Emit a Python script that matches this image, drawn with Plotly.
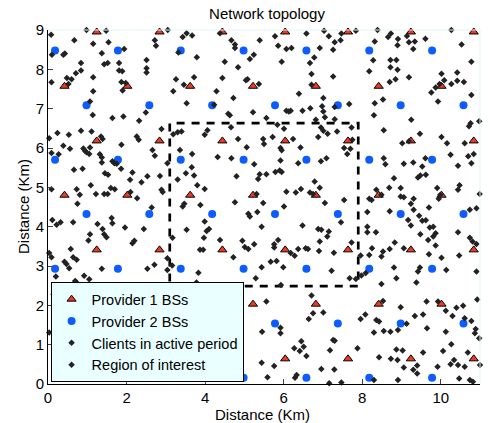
import plotly.graph_objects as go

# ---------------- data ----------------
# Provider 1 base stations (red triangles)
bs1_x = [1.24, 2.84, 4.44, 6.04, 7.64, 9.24, 10.84,
         0.42, 2.02, 3.62, 5.22, 6.82, 8.42, 10.02,
         1.24, 2.84, 4.44, 6.04, 7.64, 9.24, 10.84,
         0.42, 2.02, 3.62, 5.22, 6.82, 8.42, 10.02,
         1.24, 2.84, 4.44, 6.04, 7.64, 9.24, 10.84,
         0.42, 2.02, 3.62, 5.22, 6.82, 8.42, 10.02,
         1.24, 2.84, 4.44, 6.04, 7.64, 9.24, 10.84]
bs1_y = [8.95] * 7 + [7.57] * 7 + [6.18] * 7 + [4.80] * 7 + [3.41] * 7 + [2.03] * 7 + [0.64] * 7

# Provider 2 base stations (blue circles)
bs2_x = [0.18, 1.78, 3.38, 4.98, 6.58, 8.18, 9.78,
         0.98, 2.58, 4.18, 5.78, 7.38, 8.98, 10.58,
         0.18, 1.78, 3.38, 4.98, 6.58, 8.18, 9.78,
         0.98, 2.58, 4.18, 5.78, 7.38, 8.98, 10.58,
         0.18, 1.78, 3.38, 4.98, 6.58, 8.18, 9.78,
         0.98, 2.58, 4.18, 5.78, 7.38, 8.98, 10.58,
         0.18, 1.78, 3.38, 4.98, 6.58, 8.18, 9.78]
bs2_y = [8.48] * 7 + [7.09] * 7 + [5.70] * 7 + [4.32] * 7 + [2.93] * 7 + [1.54] * 7 + [0.16] * 7

# Clients in active period (x, y) in km
clients = [
    (0.98, 9.0), (1.48, 8.98), (0.08, 8.88), (3.05, 9.0), (0.67, 8.74), (1.15, 8.65), (1.54, 8.69),
    (2.72, 8.74), (2.75, 8.6), (3.53, 8.92), (3.43, 8.82), (0.1, 8.37), (0.39, 8.37), (0.43, 8.4),
    (1.37, 8.41), (1.94, 8.52), (3.32, 8.43), (0.84, 8.16), (0.71, 7.9), (0.48, 7.78), (0.6, 7.75),
    (0.52, 7.63), (0.84, 7.97), (1.43, 8.13), (1.52, 8.16), (1.81, 8.16), (1.81, 7.97), (1.89, 7.95),
    (2.51, 8.24), (2.51, 8.03), (2.51, 7.92), (1.15, 7.8), (1.87, 7.68), (1.98, 7.65), (3.26, 7.75),
    (3.46, 7.61), (0.09, 7.67), (1.15, 7.44), (1.07, 7.18), (1.9, 7.46), (3.19, 7.44), (3.53, 7.14),
    (1.14, 6.84), (1.64, 6.76), (1.92, 6.8), (2.49, 6.9), (2.32, 6.69), (2.89, 6.48), (3.19, 6.35),
    (3.3, 6.4), (3.4, 6.42), (0.24, 6.38), (0.53, 6.34), (0.84, 6.44), (1.11, 6.42), (1.35, 6.29),
    (1.39, 6.23), (0.03, 6.25), (0.39, 6.06), (0.56, 5.98), (0.9, 5.99), (0.94, 5.93), (0.98, 5.89),
    (1.05, 5.85), (1.07, 6.01), (1.32, 5.84), (1.37, 5.76), (1.37, 5.63), (1.87, 6.08), (2.26, 6.29),
    (2.31, 6.21), (2.66, 5.95), (2.72, 5.8), (3.04, 5.61), (3.36, 5.95), (0.09, 5.87), (0.27, 5.84),
    (0.66, 5.45), (0.88, 5.47), (1.45, 5.36), (1.53, 5.32), (1.64, 5.66), (1.69, 5.61), (1.75, 5.6),
    (1.86, 5.47), (2.15, 5.38), (2.09, 5.19), (2.38, 5.13), (2.53, 5.28), (2.85, 5.29), (3.3, 5.2),
    (3.51, 5.36), (1.09, 5.05), (0.73, 4.95), (0.81, 4.81), (1.22, 4.83), (1.43, 4.83), (1.52, 4.83),
    (1.6, 4.98), (1.7, 4.95), (2.1, 4.88), (2.27, 4.72), (2.89, 4.94), (2.92, 4.88), (3.47, 4.58),
    (0.75, 4.58), (0.09, 4.95),
    (3.67, 8.86), (4.38, 8.92), (4.67, 8.74), (4.76, 8.63), (4.76, 8.54), (5.39, 8.74), (5.78, 8.84),
    (5.86, 8.6), (6.07, 8.52), (6.2, 8.54), (6.58, 8.91), (7.03, 8.98), (7.15, 8.84), (7.26, 8.5),
    (6.92, 8.54), (6.78, 8.3), (6.67, 8.16), (5.95, 8.19), (3.79, 8.31), (4.5, 8.19), (4.84, 8.05),
    (5.14, 8.26), (5.24, 8.37), (4.44, 7.78), (5.04, 7.72), (5.08, 7.75), (5.37, 7.63), (3.72, 7.8),
    (6.71, 7.88), (6.71, 7.61), (7.26, 7.82), (4.29, 7.44), (4.72, 7.27), (4.23, 7.1), (4.59, 6.87),
    (4.63, 6.83), (5.22, 6.91), (5.56, 6.76), (6.07, 6.95), (6.13, 6.93), (6.18, 6.95), (6.48, 6.95),
    (6.68, 7.01), (6.39, 7.38), (7.01, 7.27), (6.98, 7.06), (7.01, 6.93), (7.05, 6.78), (6.82, 6.72),
    (4.66, 6.53), (4.06, 6.45), (3.99, 6.34), (5.84, 6.59), (6.01, 6.49), (6.95, 6.52), (7.01, 6.44),
    (7.12, 6.36), (6.88, 6.28), (4.84, 6.23), (5.48, 6.23), (5.5, 6.1), (5.72, 6.28), (6.24, 6.23),
    (5.06, 6.02), (5.92, 6.0), (5.95, 5.94), (6.43, 6.01), (3.67, 5.85), (4.32, 5.77), (4.67, 5.74),
    (5.25, 5.59), (5.92, 5.68), (6.37, 5.61), (6.95, 5.66), (7.09, 5.74), (3.66, 5.51), (3.72, 5.3),
    (4.8, 5.28), (5.39, 5.33), (5.56, 5.33), (5.79, 5.39), (5.9, 5.43), (5.95, 5.39), (5.35, 5.21),
    (6.79, 5.15), (6.92, 4.99), (3.8, 5.05), (3.99, 4.96), (4.76, 4.62), (3.88, 4.55), (5.48, 4.6),
    (6.01, 4.51), (6.07, 4.89), (6.31, 4.87), (6.44, 4.96), (6.67, 4.87), (6.75, 4.83), (7.05, 4.6),
    (5.31, 4.83),
    (7.47, 8.91), (7.84, 8.98), (7.3, 8.69), (7.45, 8.74), (8.39, 9.0), (8.73, 8.91), (8.66, 8.82),
    (8.91, 8.77), (8.9, 8.61), (9.14, 8.85), (9.19, 8.69), (9.34, 8.71), (9.3, 8.52), (9.61, 8.78),
    (10.27, 9.0), (10.53, 8.63), (8.32, 8.71), (8.28, 8.23), (8.72, 8.24), (8.87, 8.24), (8.18, 7.95),
    (8.72, 8.05), (8.9, 7.99), (10.78, 8.19), (9.19, 7.8), (8.7, 7.68), (8.85, 7.75), (10.02, 7.89),
    (10.09, 7.72), (9.97, 7.63), (10.42, 7.92), (10.42, 7.71), (10.27, 7.63), (10.59, 7.68), (9.76, 7.41),
    (9.87, 7.54), (10.78, 7.35), (8.53, 7.23), (8.32, 7.14), (7.67, 7.12), (7.3, 7.04), (9.93, 7.18),
    (8.3, 6.83), (7.3, 6.73), (9.25, 6.72), (7.36, 6.42), (7.73, 6.52), (8.55, 6.45), (9.47, 6.36),
    (10.72, 6.55), (10.76, 6.63), (10.98, 6.68), (7.75, 6.21), (7.54, 6.0), (7.7, 5.98), (7.62, 5.85),
    (9.02, 6.12), (9.19, 6.17), (10.02, 6.28), (10.16, 6.12), (10.61, 6.12), (10.25, 5.83), (10.7, 5.79),
    (10.84, 5.85), (10.78, 5.61), (8.55, 5.74), (8.59, 5.59), (9.06, 5.6), (9.3, 5.63), (9.61, 5.74),
    (9.53, 5.53), (10.44, 5.55), (8.81, 5.23), (9.42, 5.25), (9.48, 5.3), (9.62, 5.32), (8.69, 4.99),
    (8.98, 4.98), (9.91, 4.98), (10.48, 5.05), (10.44, 4.94), (10.99, 4.83), (8.36, 4.94), (8.49, 4.81),
    (8.18, 4.71), (8.24, 4.68), (8.98, 4.77), (9.06, 4.75), (9.24, 4.58), (9.31, 4.71), (9.95, 4.71),
    (9.99, 4.81), (7.54, 4.68),
    (2.64, 4.49), (3.43, 4.51), (0.11, 4.17), (0.22, 4.05), (0.32, 4.11), (0.64, 4.11), (1.62, 4.22),
    (1.64, 4.09), (1.96, 3.98), (1.26, 4.07), (1.39, 3.94), (1.07, 3.81), (1.43, 3.81), (1.49, 3.73),
    (1.03, 3.65), (2.44, 3.94), (2.2, 3.64), (2.15, 3.58), (3.17, 3.72), (3.53, 3.92), (0.58, 3.43),
    (0.64, 3.22), (0.73, 3.16), (0.09, 3.22), (0.42, 3.11), (0.47, 3.05), (0.54, 2.94), (0.03, 3.33),
    (1.37, 2.93), (2.53, 2.93), (2.71, 3.03), (3.04, 3.2), (3.16, 3.01), (3.04, 2.9), (0.2, 2.73),
    (0.69, 2.62), (0.92, 2.75), (1.05, 2.66), (1.62, 2.5), (1.9, 2.48), (2.02, 2.44), (2.04, 2.38),
    (2.09, 2.5), (2.02, 2.33), (2.26, 2.33), (2.49, 2.28), (0.14, 2.28), (3.46, 2.28), (0.03, 1.31),
    (0.71, 2.6), (3.78, 2.58),
    (5.1, 4.33), (5.14, 4.26), (5.33, 4.37), (5.44, 4.0), (6.48, 4.03), (6.88, 3.94), (6.96, 3.92),
    (7.15, 3.88), (7.11, 3.75), (3.99, 4.13), (4.1, 3.94), (4.04, 3.89), (3.97, 3.72), (4.38, 3.66),
    (4.95, 3.64), (5.01, 3.48), (5.1, 3.43), (5.25, 3.55), (5.86, 3.66), (5.76, 3.55), (5.76, 3.47),
    (6.18, 3.33), (6.28, 3.26), (6.37, 3.43), (6.56, 3.45), (6.62, 3.43), (6.92, 3.62), (6.9, 3.38),
    (3.87, 3.41), (3.95, 3.41), (4.72, 3.22), (5.44, 2.97), (5.67, 3.11), (5.82, 3.13), (5.99, 2.97),
    (3.83, 2.83), (5.29, 2.69), (7.22, 2.88), (4.76, 2.43), (4.8, 2.37), (4.04, 2.31), (4.4, 2.28),
    (5.93, 2.52), (5.56, 2.1), (6.71, 2.25), (6.75, 1.8), (6.64, 1.65), (7.01, 1.82), (5.92, 1.43),
    (5.92, 1.29), (5.45, 1.33), (6.45, 1.09), (6.27, 0.91), (6.41, 0.84), (6.51, 0.95), (6.58, 0.71),
    (7.18, 0.86), (7.26, 1.12), (5.76, 0.46), (6.29, 0.16), (6.33, 0.23), (6.96, 0.38), (5.59, 0.17),
    (7.16, 0.02), (5.44, 0.54),
    (8.13, 4.37), (8.7, 4.39), (9.31, 4.43), (9.7, 4.49), (9.45, 4.28), (9.53, 4.15), (9.62, 4.16),
    (9.17, 4.17), (9.24, 4.03), (9.72, 3.98), (9.81, 4.0), (10.74, 4.43), (10.91, 4.47), (7.46, 4.11),
    (8.13, 4.0), (8.13, 3.86), (8.35, 3.86), (9.48, 3.81), (9.87, 3.83), (9.81, 3.75), (9.68, 3.66),
    (10.44, 3.86), (10.74, 3.72), (10.81, 3.62), (10.91, 3.56), (7.73, 3.6), (8.83, 3.6), (9.06, 3.45),
    (8.25, 3.45), (8.18, 3.28), (8.53, 3.37), (8.49, 3.24), (8.7, 3.43), (9.87, 3.52), (9.7, 3.3),
    (10.02, 3.21), (10.47, 3.27), (7.28, 3.34), (7.96, 3.27), (8.81, 2.96), (9.47, 2.96), (9.42, 2.86),
    (10.14, 2.9), (10.91, 2.86), (7.68, 2.69), (7.84, 2.67), (7.98, 2.76), (8.09, 2.82), (8.87, 2.69),
    (8.49, 2.54), (9.38, 2.58), (8.53, 2.11), (9.64, 2.1), (9.93, 2.1), (10.13, 1.86), (10.3, 1.73),
    (10.4, 1.94), (10.57, 1.99), (10.61, 1.67), (10.93, 2.15), (8.98, 1.95), (9.34, 1.73), (9.55, 1.77),
    (8.08, 1.77), (7.96, 1.65), (8.36, 1.63), (8.43, 1.59), (9.13, 1.53), (8.3, 1.31), (8.55, 1.35),
    (8.72, 1.33), (8.91, 1.37), (9.65, 1.42), (10.13, 1.33), (10.78, 1.6), (10.89, 1.4), (10.87, 1.29),
    (10.98, 1.16), (7.3, 1.1), (7.88, 0.91), (8.87, 0.88), (9.03, 0.85), (8.43, 0.68), (8.73, 0.64),
    (8.9, 0.61), (9.55, 0.8), (10.06, 0.84), (10.27, 1.01), (10.69, 0.8), (10.34, 0.61), (10.25, 0.5),
    (10.44, 0.48), (10.61, 0.44), (9.06, 0.42), (9.4, 0.47), (9.3, 0.36), (9.4, 0.27), (9.92, 0.44),
    (11.0, 0.48), (7.29, 0.37), (8.3, 0.1), (8.91, 0.1), (7.47, 0.04), (10.47, 0.14), (10.74, 0.1),
    (10.82, 0.06),
]
client_x = [p[0] for p in clients]
client_y = [p[1] for p in clients]

# Region of interest (rectangle corners)
region_x = [3.1, 7.9, 7.9, 3.1, 3.1]
region_y = [2.49, 2.49, 6.63, 6.63, 2.49]

x_ticks = [0, 2, 4, 6, 8, 10]
y_ticks = [0, 1, 2, 3, 4, 5, 6, 7, 8, 9]

FONT = "Liberation Sans, Arial, Helvetica, sans-serif"

fig = go.Figure()

fig.add_trace(go.Scatter(
    x=region_x, y=region_y, mode="lines", showlegend=False,
    line=dict(color="black", width=2.7, dash="8px,7px"), hoverinfo="skip"))

fig.add_trace(go.Scatter(
    x=bs1_x, y=bs1_y, mode="markers", name="Provider 1 BSs", legendrank=1,
    marker=dict(symbol="triangle-up", size=8, color="#ee3a22",
                line=dict(color="black", width=1)), cliponaxis=False))

fig.add_trace(go.Scatter(
    x=bs2_x, y=bs2_y, mode="markers", name="Provider 2 BSs", legendrank=2,
    marker=dict(symbol="circle", size=8, color="#0d5cff"), cliponaxis=False))

fig.add_trace(go.Scatter(
    x=client_x, y=client_y, mode="markers", name="Clients in active period", legendrank=3,
    marker=dict(symbol="diamond", size=5, color="#222222"), cliponaxis=False))

# legend-only entry for the region (shown with a client-like marker, as in the reference)
fig.add_trace(go.Scatter(
    x=[None], y=[None], mode="markers", name="Region of interest", legendrank=4,
    marker=dict(symbol="diamond", size=5, color="#222222")))

fig.update_layout(
    width=488, height=423,
    margin=dict(l=48, r=8, t=30, b=39),
    paper_bgcolor="white", plot_bgcolor="white",
    font=dict(family=FONT, size=15, color="black"),
    title=dict(text="Network topology", x=267 / 488, xanchor="center",
               y=1 - 14 / 423, yanchor="middle",
               font=dict(size=15, family=FONT)),
    legend=dict(x=0.006, y=0.005, xanchor="left", yanchor="bottom",
                bgcolor="#eaffff", bordercolor="black", borderwidth=1,
                font=dict(size=14.5, family=FONT), traceorder="normal",
                itemsizing="trace", tracegroupgap=0),
    showlegend=True,
    annotations=[
        dict(text="Distance (Km)", xref="paper", yref="paper",
             x=(262 - 48) / 432, y=-(414 - 384) / 354, xanchor="center", yanchor="middle",
             showarrow=False, font=dict(size=15, family=FONT)),
        dict(text="Distance (Km)", xref="paper", yref="paper", textangle=-90,
             x=-(48 - 23) / 432, y=0.5, xanchor="center", yanchor="middle",
             showarrow=False, font=dict(size=15, family=FONT)),
    ],
)

fig.update_xaxes(range=[0, 11], tickvals=x_ticks, ticks="inside", ticklen=5,
                 showgrid=False, zeroline=False, showline=True, linecolor="black",
                 linewidth=1, tickfont=dict(size=15), automargin=False)
fig.update_yaxes(range=[0, 9], tickvals=y_ticks, ticks="inside", ticklen=5,
                 showgrid=False, zeroline=False, showline=True, linecolor="black",
                 linewidth=1, tickfont=dict(size=15), automargin=False)

# faint top/right frame as in the reference
fig.add_shape(type="line", xref="paper", yref="paper", x0=0, x1=1, y0=1, y1=1,
              line=dict(color="#dff4f4", width=1))
fig.add_shape(type="line", xref="paper", yref="paper", x0=1, x1=1, y0=0, y1=1,
              line=dict(color="#dff4f4", width=1))

# remove the browser's default page margin so the figure sits at the window origin
fig.write_html("out.html", config={"displayModeBar": False},
               post_script="document.body.style.margin='0px';")
